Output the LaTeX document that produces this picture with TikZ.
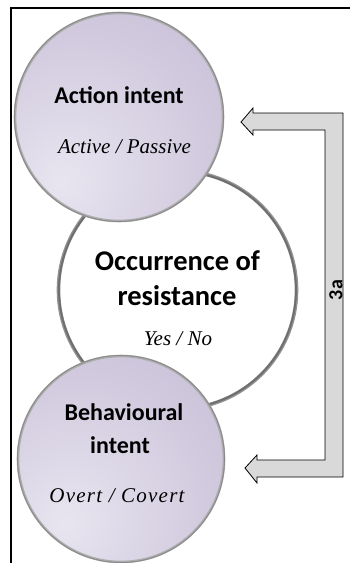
\documentclass[tikz,border=0pt]{standalone}
\usepackage{fontspec}
\setmainfont{Liberation Serif}
\newfontfamily\lblfont{Carlito}[BoldFont={Carlito Bold}]
\definecolor{plight}{HTML}{E8E5F0}
\definecolor{pmid}{HTML}{D2CBDF}
\definecolor{pdark}{HTML}{BCB3CE}
\definecolor{rimgray}{HTML}{8A8A8A}
\definecolor{midrim}{HTML}{6E6E6E}
\definecolor{arrowfill}{HTML}{D9D9D9}
\pgfdeclareradialshading{purpshade}{\pgfpoint{-14bp}{-16bp}}{color(0bp)=(plight); color(30bp)=(pmid); color(62bp)=(pdark); color(100bp)=(pdark)}
\pgfdeclareradialshading{midshade}{\pgfpoint{0bp}{0bp}}{color(0bp)=(white); color(36bp)=(white); color(46bp)=(black!12); color(50bp)=(black!24); color(100bp)=(black!24)}
\tikzset{
  purpball/.style={circle, shading=purpshade, minimum size=#1, inner sep=0pt},
  midball/.style={circle, shading=midshade, minimum size=#1, inner sep=0pt},
  purprim/.style={draw=rimgray!70, line width=2.6pt},
  purprimin/.style={draw=rimgray, line width=0.9pt},
  midrimsty/.style={draw=midrim!75, line width=3.6pt},
  midrimin/.style={draw=midrim, line width=1.8pt},
  title/.style={font=\lblfont\bfseries\fontsize{24}{28}\selectfont, anchor=base, inner sep=0pt},
  bigtitle/.style={font=\lblfont\bfseries\fontsize{28.5}{32}\selectfont, anchor=base, inner sep=0pt},
  sub/.style={font=\itshape\fontsize{21}{24}\selectfont, anchor=base, inner sep=0pt},
  blockarrow/.style={draw=black, line width=0.8pt, fill=arrowfill, line join=miter},
  frameline/.style={draw=black, line width=2pt},
}
\begin{document}
\begin{tikzpicture}[x=1pt,y=-1pt]
\useasboundingbox (0,0) rectangle (350,563);
\fill[white] (0,0) rectangle (350,563);
% frame
\coordinate (f1) at (11,563);
\coordinate (f2) at (11,8);
\coordinate (f3) at (350,8);
\draw[frameline] (f1) -- (f2) -- (f3);
% middle circle
\node[midball=241pt] (mid) at (177.5,290) {};
\draw[midrimsty] (mid.center) circle (119pt);
\draw[midrimin] (mid.center) circle (118.5pt);
% top circle
\node[purpball=210pt] (top) at (119,117) {};
\draw[purprim] (top.center) circle (104pt);
\draw[purprimin] (top.center) circle (104.5pt);
% bottom circle
\node[purpball=208pt] (bot) at (121,459) {};
\draw[purprim] (bot.center) circle (103pt);
\draw[purprimin] (bot.center) circle (103.5pt);
% texts
\node[title] (t1) at (119,103) {Action intent};
\node[sub] (s1) at (124.5,153) {Active / Passive};
\node[bigtitle] (t2a) at (177.5,270) {Occurrence of};
\node[bigtitle] (t2b) at (177,305) {resistance};
\node[sub] (s2) at (178,345) {Yes / No};
\node[title] (t3a) at (124,420) {Behavioural};
\node[title] (t3b) at (120,453) {intent};
\node[sub, font=\itshape\fontsize{21}{24}\selectfont\addfontfeature{LetterSpace=6}] (s3) at (117,502) {Overt / Covert};
% bracket arrow
\coordinate (a1) at (241,122);
\coordinate (a2) at (253,108);
\coordinate (a3) at (253,113);
\coordinate (a4) at (343,113);
\coordinate (a5) at (343,477);
\coordinate (a6) at (257,477);
\coordinate (a7) at (257,483);
\coordinate (a8) at (245,468);
\coordinate (a9) at (257,455);
\coordinate (a10) at (257,460);
\coordinate (a11) at (325,460);
\coordinate (a12) at (325,130);
\coordinate (a13) at (253,130);
\coordinate (a14) at (253,135);
\draw[blockarrow] (a1) -- (a2) -- (a3) -- (a4) -- (a5) -- (a6) -- (a7) -- (a8) -- (a9) -- (a10) -- (a11) -- (a12) -- (a13) -- (a14) -- cycle;
\node[font=\lblfont\bfseries\fontsize{20}{22}\selectfont, rotate=90, inner sep=0pt] (lab) at (336,290) {3a};
\end{tikzpicture}
\end{document}
